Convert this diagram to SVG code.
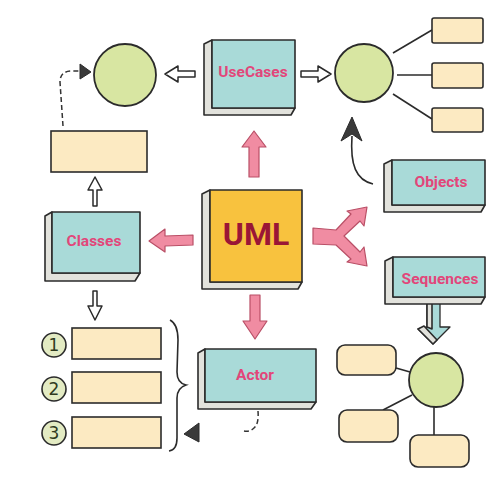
<svg xmlns="http://www.w3.org/2000/svg" width="500" height="500" viewBox="0 0 500 500">
<defs>
<style>
.face{fill:#A9DAD8;stroke:#2b2b2b;stroke-width:1.6;stroke-linejoin:round}
.uml{fill:#F8C23E;stroke:#2b2b2b;stroke-width:1.6;stroke-linejoin:round}
.bevel{fill:#E2E2DC;stroke:#2b2b2b;stroke-width:1.6;stroke-linejoin:round}
.lbl{font-family:Roboto,"Liberation Sans",sans-serif;font-weight:bold;font-size:15.5px;fill:#E2467A;text-anchor:middle}
.big{font-family:Roboto,"Liberation Sans",sans-serif;font-weight:bold;font-size:32px;fill:#9A1636;text-anchor:middle}
.circ{fill:#D8E6A2;stroke:#2b2b2b;stroke-width:1.8}
.note{fill:#FCEAC2;stroke:#2b2b2b;stroke-width:1.6}
.line{stroke:#2b2b2b;stroke-width:1.6;fill:none}
.hollow{fill:#fff;stroke:#2b2b2b;stroke-width:1.5;stroke-linejoin:round}
.pink{fill:#F08CA2;stroke:#B94F66;stroke-width:1.2;stroke-linejoin:round}
.dash{stroke:#333;stroke-width:1.5;fill:none;stroke-dasharray:5 3}
.num{font-family:"DejaVu Sans","Liberation Sans",sans-serif;font-size:17px;fill:#2f3a1e;text-anchor:middle}
.ncirc{fill:#E3EBC3;stroke:#2b2b2b;stroke-width:1.6}
.dark{fill:#3a3a3a;stroke:#2b2b2b;stroke-width:1}
.blue{fill:#A9DAD8;stroke:#2b2b2b;stroke-width:1.3;stroke-linejoin:round}
</style>
</defs>
<rect width="500" height="500" fill="#fff"/>

<g id="connectors">
  <!-- UseCases -> left circle -->
  <polygon class="hollow" points="195,71 178,71 178,66 165,74 178,82 178,77 195,77"/>
  <!-- UseCases -> right circle -->
  <polygon class="hollow" points="301,71 318,71 318,66 331,74 318,82 318,77 301,77"/>
  <!-- right circle to small rects -->
  <line class="line" x1="393" y1="53" x2="432" y2="30"/>
  <line class="line" x1="397" y1="75" x2="432" y2="75"/>
  <line class="line" x1="393" y1="94" x2="432" y2="119"/>
  <!-- curved arrow from Objects -->
  <path class="line" d="M373,184 C356,180 350,165 352,136" stroke-width="2.2"/>
  <polygon class="dark" points="352,117 341,141 352,134 362,141"/>
  <!-- UML pink arrows -->
  <polygon class="pink" points="249,177 249,147 242,147 254,131 266,147 259,147 259,177"/>
  <polygon class="pink" points="250,295 260,295 260,321 267,321 255,339 243,321 250,321"/>
  <polygon class="pink" points="193,235 165,236 165,229 149,241 165,252 165,246 193,245"/>
  <path class="pink" d="M313,228 L336,230 L351,214 L347,211 L367,207 L364,226 L360,221 L344,236 L360,252 L364,247 L367,266 L347,262 L351,259 L336,245 L313,244 Z"/>
  <!-- Classes hollow arrows -->
  <polygon class="hollow" points="93,206 93,190 88,190 95,177 102,190 97,190 97,206"/>
  <polygon class="hollow" points="93,291 97,291 97,306 102,306 95,320 88,306 93,306"/>
  <!-- dashed arrow to left circle -->
  <path class="dash" d="M63,126 L60,82 Q60,71 72,71 L80,71"/>
  <polygon class="dark" points="80,64 91,72 80,79"/>
  <!-- Sequences down arrow -->
  <polygon class="blue" points="427,297 440,297 440,327 450,327 433,344 418,329 427,327"/>
  <polygon class="bevel" points="427,299 432,299 432,329 427,327" stroke-width="1"/>
  <polygon class="bevel" points="418,329 424,326 437,340 433,344" stroke-width="1"/>
  <!-- lower-right lines -->
  <line class="line" x1="396" y1="368" x2="410" y2="372"/>
  <line class="line" x1="383" y1="410" x2="412" y2="395"/>
  <line class="line" x1="434" y1="407" x2="434" y2="436"/>
  <!-- brace -->
  <path class="line" d="M170,320 Q178,324 178,340 L177,372 Q177,383 186,385 Q177,388 177,398 L177,438 Q177,450 169,451"/>
  <!-- triangle -->
  <polygon class="dark" points="184,434 199,423 199,442"/>
  <!-- Actor dashed -->
  <path class="dash" d="M258,411 Q259,424 254,428 Q250,432 244,431"/>
</g>

<g id="uml">
  <polygon class="bevel" points="202,194 210,190 210,282 302,282 298,289 202,289"/>
  <rect class="uml" x="210" y="190" width="92" height="92"/>
  <text class="big" x="256" y="245">UML</text>
</g>

<g id="usecases">
  <polygon class="bevel" points="204,44 212,40 212,108 295,108 291,115 204,115"/>
  <rect class="face" x="212" y="40" width="83" height="68"/>
  <text class="lbl" x="253" y="77">UseCases</text>
</g>

<g id="circle-left">
  <circle class="circ" cx="125" cy="75" r="31"/>
</g>
<g id="circle-right">
  <circle class="circ" cx="364" cy="73" r="29"/>
</g>
<g id="rect-r1"><rect class="note" x="432" y="18" width="51" height="25" rx="2"/></g>
<g id="rect-r2"><rect class="note" x="432" y="63" width="51" height="25" rx="2"/></g>
<g id="rect-r3"><rect class="note" x="432" y="108" width="51" height="24" rx="2"/></g>

<g id="objects">
  <polygon class="bevel" points="384,164 392,160 392,205 485,205 481,212 384,212"/>
  <rect class="face" x="392" y="160" width="93" height="45"/>
  <text class="lbl" x="441" y="187">Objects</text>
</g>

<g id="sequences">
  <polygon class="bevel" points="385,261 393,257 393,297 485,297 481,304 385,304"/>
  <rect class="face" x="393" y="257" width="92" height="40"/>
  <text class="lbl" x="440" y="284">Sequences</text>
</g>

<g id="classes">
  <polygon class="bevel" points="45,216 52,212 52,273 140,273 135,281 45,281"/>
  <rect class="face" x="52" y="212" width="88" height="61"/>
  <text class="lbl" x="94" y="246">Classes</text>
</g>

<g id="rect-topleft">
  <rect class="note" x="51" y="131" width="96" height="41"/>
</g>

<g id="actor">
  <polygon class="bevel" points="198,353 205,349 205,402 316,402 311,409 198,409"/>
  <rect class="face" x="205" y="349" width="111" height="53"/>
  <text class="lbl" x="255" y="380">Actor</text>
</g>

<g id="item1">
  <circle class="ncirc" cx="54" cy="345" r="12"/>
  <text class="num" x="54" y="351">1</text>
  <rect class="note" x="72" y="328" width="89" height="31"/>
</g>
<g id="item2">
  <circle class="ncirc" cx="54" cy="389" r="12"/>
  <text class="num" x="54" y="395">2</text>
  <rect class="note" x="72" y="372" width="89" height="31"/>
</g>
<g id="item3">
  <circle class="ncirc" cx="54" cy="433" r="12"/>
  <text class="num" x="54" y="439">3</text>
  <rect class="note" x="72" y="417" width="89" height="31"/>
</g>

<g id="seq-circle">
  <circle class="circ" cx="436" cy="380" r="27"/>
</g>
<g id="seq-rect1"><rect class="note" x="337" y="345" width="59" height="30" rx="8"/></g>
<g id="seq-rect2"><rect class="note" x="339" y="410" width="59" height="32" rx="8"/></g>
<g id="seq-rect3"><rect class="note" x="410" y="435" width="59" height="32" rx="8"/></g>
</svg>
